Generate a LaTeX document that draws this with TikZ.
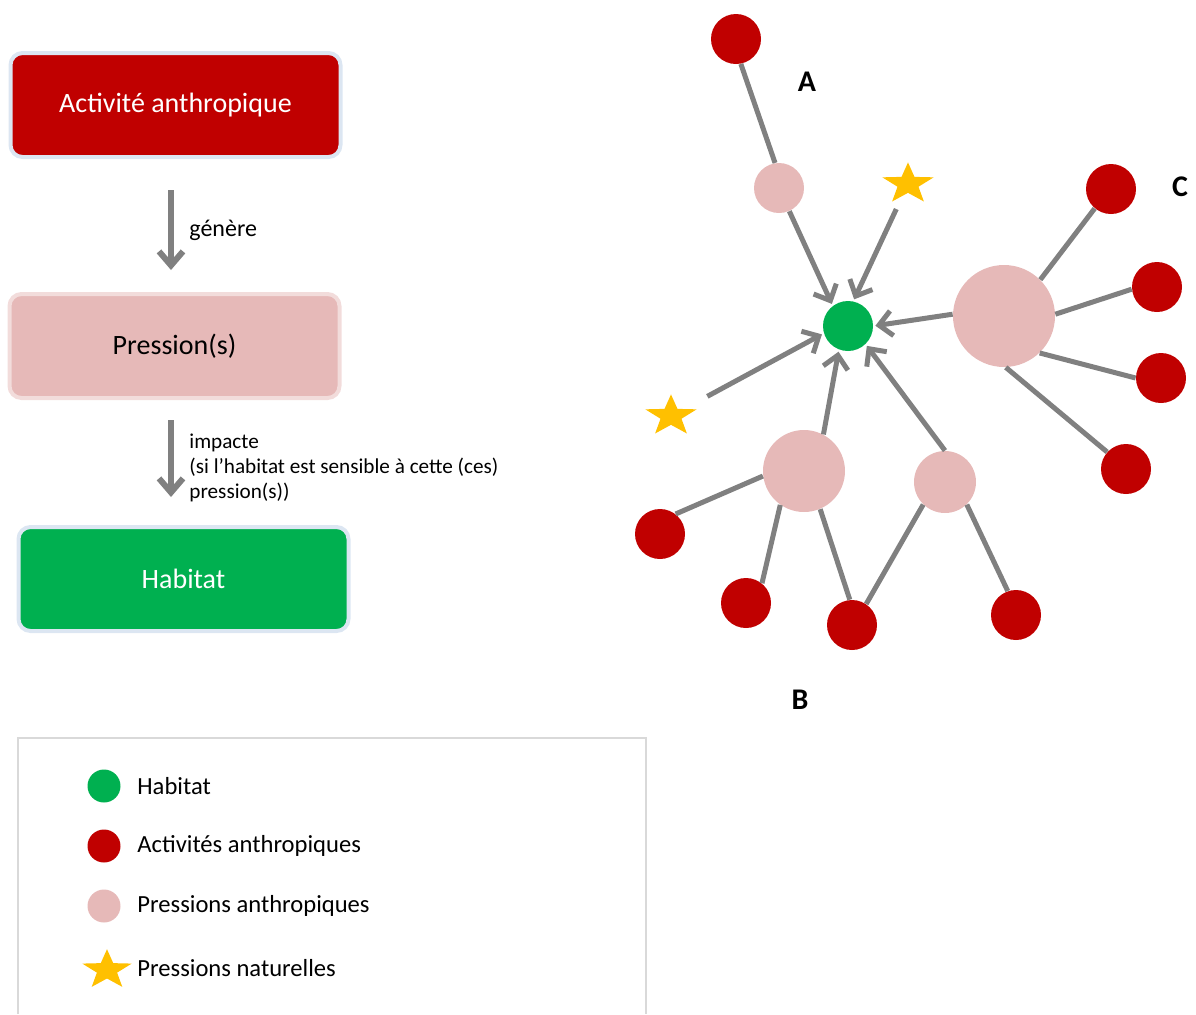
\documentclass[tikz,border=0pt]{standalone}
\usepackage{fontspec}
\setmainfont{Carlito}
\usetikzlibrary{
  positioning,
  arrows.meta,
  shapes.geometric
}
\definecolor{prRed}{HTML}{C00000}
\definecolor{prPink}{HTML}{E6B9B8}
\definecolor{prPinkL}{HTML}{F2DCDB}
\definecolor{prGreen}{HTML}{00B050}
\definecolor{prGold}{HTML}{FFC000}
\definecolor{prGray}{HTML}{808080}
\definecolor{prEdge}{HTML}{DCE6F2}
\definecolor{prFrame}{HTML}{D9D9D9}

\begin{document}
\begin{tikzpicture}[
  x=0.5pt, y=-0.5pt,
  every node/.style={align=center, inner sep=0pt},
  flowbox/.style={
    rectangle, rounded corners=6pt,
    draw=prEdge, line width=2pt,
    minimum width=165pt, minimum height=52pt,
    font=\fontsize{14}{17}\selectfont
  },
  dot/.style={circle, minimum size=25pt},
  star5/.style={star, star points=5, star point ratio=2.45,
    fill=prGold, minimum size=27pt, yscale=0.8, transform shape},
  flowarrow/.style={draw=prGray, line width=3pt,
    -{Straight Barb[length=7pt, width=12pt]}},
  impact/.style={draw=prGray, line width=2.5pt,
    -{Straight Barb[length=6.5pt, width=12.5pt]}, shorten >=1pt},
  link/.style={draw=prGray, line width=2.5pt},
  netlabel/.style={font=\bfseries\fontsize{15}{18}\selectfont},
  legtext/.style={anchor=west, font=\fontsize{12.3}{14}\selectfont}
]
 \useasboundingbox (0,0) rectangle (1196,1014);

 % Left: chain activity -> pressure -> habitat
 \node[flowbox, fill=prRed, text=white] (actbox) at (175.5,105)
  {Activité anthropique};
 \node[flowbox, fill=prPink, draw=prPinkL] (presbox) at (174.5,346)
  {Pression(s)};
 \node[flowbox, fill=prGreen, text=white] (habbox) at (183.5,579)
  {Habitat};

 \coordinate (gx) at (171,0);
 \draw[flowarrow, shorten <=15.5pt, shorten >=11pt]
  (actbox.south -| gx) -- (presbox.north -| gx);
 \draw[flowarrow, shorten <=10pt, shorten >=14pt]
  (presbox.south -| gx) -- (habbox.north -| gx);

 \node[anchor=west, font=\fontsize{12}{14}\selectfont] (lblgen) at (189,230)
  {génère};
 \node[anchor=west, align=left, font=\fontsize{10.6}{12.5}\selectfont] (lblimp)
  at (189,468)
  {impacte\\(si l’habitat est sensible à cette (ces)\\pression(s))};

 % Right: network around one habitat
 \node[dot, fill=prGreen] (hab) at (848,326) {};

 % A
 \node[dot, fill=prRed] (rA) at (736,39) {};
 \node[dot, fill=prPink] (pA) at (779,188) {};
 \node[star5] (sTop) at (908,184) {};
 \node[star5] (sLeft) at (671,416) {};

 % C
 \node[dot, fill=prPink, minimum size=51pt] (pC) at (1004,316) {};
 \node[dot, fill=prRed] (rC1) at (1111,189) {};
 \node[dot, fill=prRed] (rC2) at (1157,287) {};
 \node[dot, fill=prRed] (rC3) at (1161,378) {};
 \node[dot, fill=prRed] (rC4) at (1126,469) {};

 % B
 \node[dot, fill=prPink, minimum size=41pt] (pB1) at (804,471) {};
 \node[dot, fill=prPink, minimum size=31pt] (pB2) at (945,482) {};
 \node[dot, fill=prRed] (rB1) at (660,534) {};
 \node[dot, fill=prRed] (rB2) at (746,603) {};
 \node[dot, fill=prRed] (rB3) at (852,625) {};
 \node[dot, fill=prRed] (rB4) at (1016,615) {};

 \node[netlabel] (labA) at (807,82) {A};
 \node[netlabel] (labB) at (800,700) {B};
 \node[netlabel] (labC) at (1180,187) {C};

 % activities -> pressures
 \draw[link] (rA.-79) -- (pA.99);
 \draw[link] (pC.45) -- (rC1.230);
 \draw[link] (pC.2) -- (rC2.185);
 \draw[link] (pC.-46) -- (rC3.180);
 \draw[link] (pC.-88) -- (rC4.138);
 \draw[link] (pB1.187) -- (rB1.52);
 \draw[link] (pB1.-125) -- (rB2.51);
 \draw[link] (pB1.-67) -- (rB3.95);
 \draw[link] (pB2.226) -- (rB3.56);
 \draw[link] (pB2.-46) -- (rB4.109);

 % pressures -> habitat
 \draw[impact] (pA.-66) -- (hab.127);
 \draw[impact, shorten <=7pt] (sTop) -- (hab.78);
 \draw[impact, shorten <=13pt] (sLeft) -- (hab.197);
 \draw[impact] (pC.178) -- (hab.0);
 \draw[impact] (pB1.62) -- (hab.-111);
 \draw[impact] (pB2.90) -- (hab.-46);

 % Legend
 \draw[prFrame, line width=0.75pt] (18,1014) -- (18,738) -- (646,738) -- (646,1014);
 \node[dot, fill=prGreen, minimum size=16.5pt] (legHab) at (104,786) {};
 \node[dot, fill=prRed, minimum size=16.5pt] (legAct) at (104,846) {};
 \node[dot, fill=prPink, minimum size=16.5pt] (legPres) at (104,906) {};
 \node[star5, minimum size=26pt] (legNat) at (107,970) {};
 \node[legtext] (txtHab) at (137,786) {Habitat};
 \node[legtext] (txtAct) at (137,846) {Activités anthropiques};
 \node[legtext] (txtPres) at (137,906) {Pressions anthropiques};
 \node[legtext] (txtNat) at (137,968) {Pressions naturelles};
\end{tikzpicture}
\end{document}
